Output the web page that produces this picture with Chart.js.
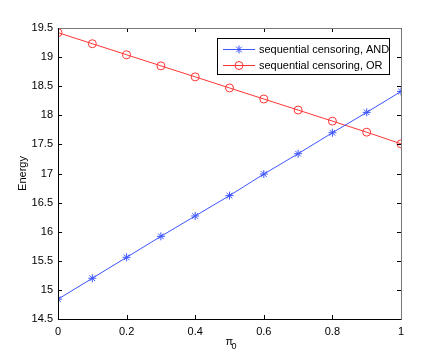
<!DOCTYPE html>
<html>
<head>
<meta charset="utf-8">
<script src="https://cdn.jsdelivr.net/npm/chart.js@4/dist/chart.umd.min.js"></script>
<style>
  html, body { margin: 0; padding: 0; background: #fff; }
  #wrap { width: 443px; height: 360px; }
</style>
</head>
<body>
<div id="wrap"><canvas id="chart" width="443" height="360"></canvas></div>
<script>
// data
let pi0 = [0, 0.1, 0.2, 0.3, 0.4, 0.5, 0.6, 0.7, 0.8, 0.9, 1];
let energyAND = [14.84, 15.20, 15.56, 15.92, 16.27, 16.62, 16.99, 17.34, 17.70, 18.05, 18.41];
let energyOR = [19.42, 19.23, 19.04, 18.85, 18.66, 18.47, 18.28, 18.09, 17.90, 17.71, 17.51];
let seriesNames = ['sequential censoring, AND', 'sequential censoring, OR'];
let xLabel = 'π';
let xLabelSub = '0';
let yLabel = 'Energy';

const blue = '#3d55ff';
const red = '#ff3535';
const font = '11px "Liberation Sans", Arial, sans-serif';

function pts(ys) {
    return pi0.map((x, i) => ({ x: x, y: ys[i] }));
}

function fmt(v) {
    return String(+v.toFixed(2));
}

// frame, inside ticks, x label, legend
const matlabBits = {
    id: 'matlabBits',
    afterDraw(chart) {
        const ctx = chart.ctx;
        const a = chart.chartArea;
        const xs = chart.scales.x;
        const ys = chart.scales.y;
        ctx.save();

        // ticks inside on all four sides
        ctx.lineWidth = 1;
        ctx.strokeStyle = '#000';
        xs.ticks.forEach(t => {
            const px = Math.round(xs.getPixelForValue(t.value)) + 0.5;
            ctx.beginPath();
            ctx.moveTo(px, a.bottom);
            ctx.lineTo(px, a.bottom - 4);
            ctx.moveTo(px, a.top);
            ctx.lineTo(px, a.top + 4);
            ctx.stroke();
        });
        ys.ticks.forEach(t => {
            const py = Math.round(ys.getPixelForValue(t.value)) + 0.5;
            ctx.beginPath();
            ctx.moveTo(a.left, py);
            ctx.lineTo(a.left + 4, py);
            ctx.moveTo(a.right, py);
            ctx.lineTo(a.right - 4, py);
            ctx.stroke();
        });

        // box
        const L = Math.round(a.left) + 0.5, R = Math.round(a.right) + 0.5;
        const T = Math.round(a.top) + 0.5, B = Math.round(a.bottom) + 0.5;
        ctx.strokeStyle = '#777';
        ctx.beginPath();
        ctx.moveTo(L, T); ctx.lineTo(R, T); ctx.lineTo(R, B);
        ctx.stroke();
        ctx.strokeStyle = '#000';
        ctx.beginPath();
        ctx.moveTo(L, T); ctx.lineTo(L, B); ctx.lineTo(R, B);
        ctx.stroke();

        // x label with subscript
        ctx.fillStyle = '#000';
        ctx.font = font;
        ctx.textAlign = 'left';
        ctx.textBaseline = 'alphabetic';
        const cx = (a.left + a.right) / 2 - 4;
        ctx.fillText(xLabel, cx, 345);
        ctx.font = '9px "Liberation Sans", Arial, sans-serif';
        ctx.fillText(xLabelSub, cx + 6, 349);

        // legend
        const lx = 217.5, ly = 38.5, lw = 172, lh = 36;
        ctx.fillStyle = '#fff';
        ctx.fillRect(lx, ly, lw, lh);
        ctx.strokeStyle = '#000';
        ctx.strokeRect(lx, ly, lw, lh);
        ctx.font = font;
        ctx.textBaseline = 'middle';
        chart.data.datasets.forEach((ds, i) => {
            const yy = 49.5 + i * 16;
            ctx.strokeStyle = ds.borderColor;
            ctx.lineWidth = 1;
            ctx.beginPath();
            ctx.moveTo(223, yy);
            ctx.lineTo(255, yy);
            ctx.stroke();
            drawMarker(ctx, ds.pointStyle, 239, yy, ds.borderColor);
            ctx.fillStyle = '#000';
            ctx.fillText(ds.label, 259, yy);
        });
        ctx.restore();
    }
};

function drawMarker(ctx, style, x, y, color) {
    ctx.strokeStyle = color;
    ctx.lineWidth = 1;
    ctx.beginPath();
    if (style === 'circle') {
        ctx.arc(x, y, 4, 0, Math.PI * 2);
    } else {
        for (let k = 0; k < 4; k++) {
            const ang = k * Math.PI / 4;
            ctx.moveTo(x - 4 * Math.cos(ang), y - 4 * Math.sin(ang));
            ctx.lineTo(x + 4 * Math.cos(ang), y + 4 * Math.sin(ang));
        }
    }
    ctx.stroke();
}

const ctx = document.getElementById('chart').getContext('2d');
const chart = new Chart(ctx, {
    type: 'scatter',
    data: {
        datasets: [{
            label: seriesNames[0],
            data: pts(energyAND),
            showLine: true,
            borderColor: blue,
            backgroundColor: 'rgba(0,0,0,0)',
            borderWidth: 1,
            pointStyle: 'star',
            pointRadius: 4,
            pointBorderWidth: 1,
            tension: 0
        }, {
            label: seriesNames[1],
            data: pts(energyOR),
            showLine: true,
            borderColor: red,
            backgroundColor: 'rgba(0,0,0,0)',
            borderWidth: 1,
            pointStyle: 'circle',
            pointRadius: 4,
            pointBorderWidth: 1,
            tension: 0
        }]
    },
    options: {
        responsive: false,
        animation: false,
        layout: { padding: { top: 28, right: 42, left: 0, bottom: 0 } },
        plugins: {
            legend: { display: false },
            tooltip: { enabled: false }
        },
        scales: {
            x: {
                type: 'linear',
                min: 0, max: 1,
                grid: { display: false, drawTicks: false },
                border: { display: false },
                ticks: {
                    stepSize: 0.2,
                    color: '#000',
                    padding: 6,
                    maxRotation: 0,
                    callback: v => fmt(v),
                    font: { family: '"Liberation Sans", Arial, sans-serif', size: 11 }
                },
                afterFit(s) { s.height = 41; }
            },
            y: {
                min: 14.5, max: 19.5,
                grid: { display: false, drawTicks: false },
                border: { display: false },
                title: {
                    display: true,
                    text: yLabel,
                    color: '#000',
                    padding: { top: 16, bottom: 0 },
                    font: { family: '"Liberation Sans", Arial, sans-serif', size: 11 }
                },
                ticks: {
                    stepSize: 0.5,
                    color: '#000',
                    padding: 5,
                    callback: v => fmt(v),
                    font: { family: '"Liberation Sans", Arial, sans-serif', size: 11 }
                },
                afterFit(s) { s.width = 58; }
            }
        }
    },
    plugins: [matlabBits]
});
</script>
</body>
</html>
